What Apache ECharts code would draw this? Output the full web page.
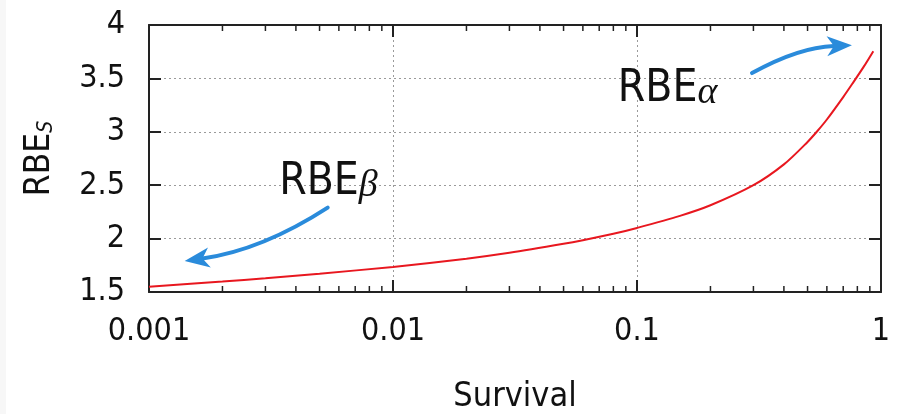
<!DOCTYPE html>
<html>
<head>
<meta charset="utf-8">
<script src="https://cdn.jsdelivr.net/npm/echarts@6/dist/echarts.min.js"></script>
<style>
  html, body { margin: 0; padding: 0; background: #fff; }
  #chart { width: 912px; height: 414px; }
</style>
</head>
<body>
<div id="chart"></div>
<script>
// Relative biological effectiveness as a function of cell survival
const survival = [0.001, 0.002, 0.003, 0.005, 0.01, 0.02, 0.03, 0.05, 0.06, 0.08, 0.1,
                  0.15, 0.2, 0.3, 0.4, 0.5, 0.55, 0.6, 0.7, 0.77, 0.85, 0.93];
const rbe = [1.55, 1.598, 1.629, 1.672, 1.735, 1.812, 1.867, 1.951, 1.985, 2.045, 2.10,
             2.213, 2.312, 2.50, 2.695, 2.905, 3.01, 3.115, 3.325, 3.463, 3.61, 3.755];

const xTicks = [0.001, 0.01, 0.1, 1];
const xTickLabels = ['0.001', '0.01', '0.1', '1'];
const xMinorTicks = [0.002, 0.003, 0.004, 0.005, 0.006, 0.007, 0.008, 0.009,
                     0.02, 0.03, 0.04, 0.05, 0.06, 0.07, 0.08, 0.09,
                     0.2, 0.3, 0.4, 0.5, 0.6, 0.7, 0.8, 0.9];
const yTicks = [1.5, 2, 2.5, 3, 3.5, 4];
const yTickLabels = ['1.5', '2', '2.5', '3', '3.5', '4'];

// annotation anchors and arrows, in data units (survival, RBE); last value bends the arrow
const alphaLabelAt = [0.083, 3.42];
const betaLabelAt = [0.0034, 2.55];
const arrows = [
  [0.296, 3.55, 0.76, 3.81, 0.12],
  [0.0054, 2.29, 0.00140, 1.79, 0.11]
];

const X_MIN = 0.001, X_MAX = 1, Y_MIN = 1.5, Y_MAX = 4, Y_STEP = 0.5;

const FONT = '"DejaVu Sans Condensed", "DejaVu Sans", sans-serif';
const MATH = '"Liberation Serif", "DejaVu Serif", serif';
const INK = '#111';
const AXIS = '#222';
const GRIDLINE = '#9a9a9a';
const RED = '#e8171f';
const BLUE = '#2a8bdb';

function xLabel(v) {
  const i = xTicks.findIndex(t => Math.abs(Math.log10(t) - Math.log10(v)) < 1e-6);
  return i < 0 ? '' : xTickLabels[i];
}
function yLabel(v) {
  const i = yTicks.findIndex(t => Math.abs(t - v) < 1e-9);
  return i < 0 ? '' : yTickLabels[i];
}

const tickStyle = () => ({ fontFamily: FONT, fontSize: 32, color: INK });
const majorTick = () => ({ show: true, inside: true, length: 12, lineStyle: { color: AXIS, width: 2 } });
const frameLine = () => ({ show: true, onZero: false, lineStyle: { color: AXIS, width: 2 } });
const dotted = () => ({ show: true, lineStyle: { color: GRIDLINE, width: 1, type: [2, 3] } });

const chart = echarts.init(document.getElementById('chart'));

chart.setOption({
  animation: false,
  backgroundColor: '#fff',
  // thin grey margin strip on the left edge of the page
  graphic: [{ type: 'rect', left: 0, top: 0, shape: { width: 6, height: 414 }, style: { fill: '#f7f7f7' }, silent: true }],
  grid: { left: 149, right: 31, top: 25, bottom: 122, outerBoundsMode: 'none', containLabel: false },
  xAxis: [
    {
      type: 'log', logBase: 10, min: X_MIN, max: X_MAX,
      name: 'Survival', nameLocation: 'middle', nameGap: 88,
      nameTextStyle: { fontFamily: FONT, fontSize: 34, color: INK },
      axisLine: frameLine(), axisTick: majorTick(),
      axisLabel: Object.assign({ margin: 24, formatter: xLabel }, tickStyle()),
      splitLine: dotted()
    },
    {
      type: 'log', logBase: 10, min: X_MIN, max: X_MAX, position: 'top',
      axisLine: frameLine(), axisTick: majorTick(),
      axisLabel: { show: false }, splitLine: { show: false }
    }
  ],
  yAxis: [
    {
      type: 'value', min: Y_MIN, max: Y_MAX, interval: Y_STEP,
      name: '{m|RBE}{s|S}', nameLocation: 'middle', nameRotate: 90, nameGap: 92,
      nameTextStyle: {
        rich: {
          m: { fontFamily: FONT, fontSize: 35, color: INK, lineHeight: 40, verticalAlign: 'bottom' },
          s: { fontFamily: FONT, fontSize: 21, fontStyle: 'italic', color: INK, lineHeight: 16, verticalAlign: 'bottom' }
        }
      },
      axisLine: frameLine(), axisTick: majorTick(),
      axisLabel: Object.assign({ margin: 24, formatter: yLabel }, tickStyle()),
      splitLine: dotted()
    },
    {
      type: 'value', min: Y_MIN, max: Y_MAX, interval: Y_STEP, position: 'right',
      axisLine: frameLine(), axisTick: majorTick(),
      axisLabel: { show: false }, splitLine: { show: false }
    }
  ],
  series: [
    {
      // minor ticks of the log axis, on the bottom and top frame
      type: 'custom', xAxisIndex: 0, yAxisIndex: 0, silent: true, z: 5,
      encode: { x: 0, y: 1 },
      data: xMinorTicks.map(v => [v, Y_MIN]),
      renderItem: (params, api) => {
        const v = api.value(0);
        const b = api.coord([v, Y_MIN]);
        const t = api.coord([v, Y_MAX]);
        const st = { stroke: AXIS, lineWidth: 1.5 };
        return {
          type: 'group',
          children: [
            { type: 'line', shape: { x1: b[0], y1: b[1], x2: b[0], y2: b[1] - 6 }, style: st },
            { type: 'line', shape: { x1: t[0], y1: t[1], x2: t[0], y2: t[1] + 6 }, style: st }
          ]
        };
      }
    },
    {
      // curved annotation arrows
      type: 'custom', xAxisIndex: 0, yAxisIndex: 0, silent: true, z: 6,
      encode: { x: [0, 2], y: [1, 3] },
      data: arrows,
      renderItem: (params, api) => {
        const p1 = api.coord([api.value(0), api.value(1)]);
        const p2 = api.coord([api.value(2), api.value(3)]);
        const bend = api.value(4);
        const mx = (p1[0] + p2[0]) / 2, my = (p1[1] + p2[1]) / 2;
        const cx = mx - (p1[1] - p2[1]) * bend;
        const cy = my - (p2[0] - p1[0]) * bend;
        // arrow head along the end tangent
        let dx = p2[0] - cx, dy = p2[1] - cy;
        const len = Math.hypot(dx, dy);
        dx /= len; dy /= len;
        const nx = -dy, ny = dx;
        const L = 25, W = 10, notch = 7;
        const base = [p2[0] - dx * L, p2[1] - dy * L];
        const inner = [p2[0] - dx * (L - notch), p2[1] - dy * (L - notch)];
        const head = [
          p2,
          [base[0] + nx * W, base[1] + ny * W],
          inner,
          [base[0] - nx * W, base[1] - ny * W]
        ];
        return {
          type: 'group',
          children: [
            {
              type: 'bezierCurve',
              shape: { x1: p1[0], y1: p1[1], x2: inner[0], y2: inner[1], cpx1: cx, cpy1: cy },
              style: { stroke: BLUE, lineWidth: 4, fill: null, lineCap: 'round' }
            },
            { type: 'polygon', shape: { points: head }, style: { fill: BLUE } }
          ]
        };
      }
    },
    {
      type: 'line', xAxisIndex: 0, yAxisIndex: 0, z: 3,
      data: survival.map((s, i) => [s, rbe[i]]),
      showSymbol: false, symbol: 'none', smooth: 0.3,
      lineStyle: { color: RED, width: 2 },
      markPoint: {
        silent: true, animation: false,
        symbol: 'circle', symbolSize: 1,
        itemStyle: { color: 'rgba(0,0,0,0)' },
        label: {
          show: true, position: 'right', distance: 0,
          rich: {
            m: { fontFamily: FONT, fontSize: 44, color: INK, lineHeight: 50, verticalAlign: 'bottom' },
            g: { fontFamily: MATH, fontSize: 38, fontStyle: 'italic', color: INK, lineHeight: 18, verticalAlign: 'bottom' }
          }
        },
        data: [
          { coord: alphaLabelAt, label: { formatter: '{m|RBE}{g|α}' } },
          { coord: betaLabelAt, label: { formatter: '{m|RBE}{g|β}' } }
        ]
      }
    }
  ]
});
</script>
</body>
</html>
